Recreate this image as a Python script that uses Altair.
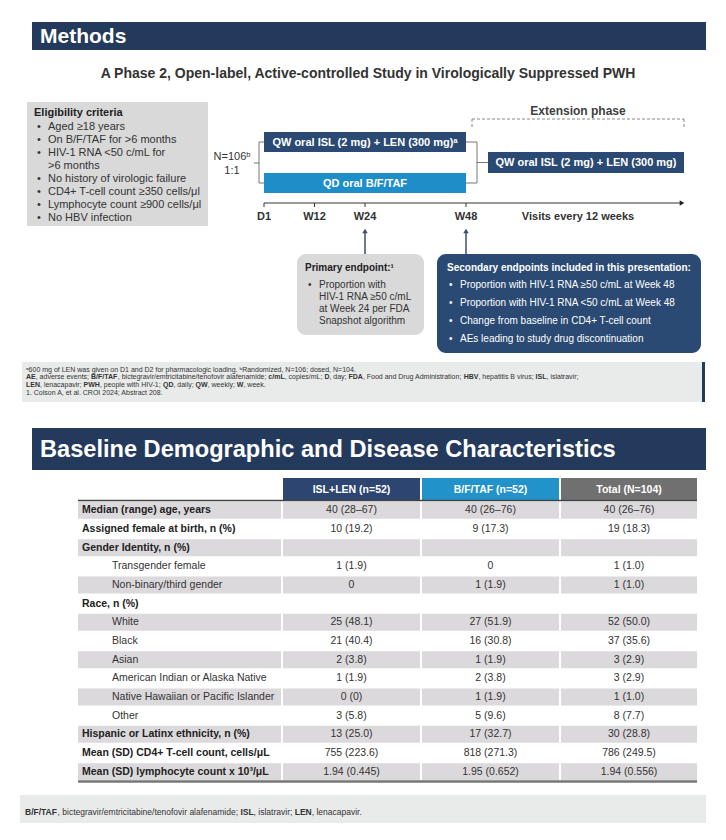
import altair as alt
import pandas as pd

FONT = "Liberation Sans"

# ------------------------------------------------------------------ data
methods_title = "Methods"
study_title = "A Phase 2, Open-label, Active-controlled Study in Virologically Suppressed PWH"
eligibility_title = "Eligibility criteria"
eligibility_lines = ["Aged ≥18 years", "On B/F/TAF for >6 months", "HIV-1 RNA <50 c/mL for", ">6 months",
                     "No history of virologic failure", "CD4+ T-cell count ≥350 cells/μl",
                     "Lymphocyte count ≥900 cells/μl", "No HBV infection"]
eligibility_bullet = [True, True, True, False, True, True, True, True]
randomization = ["N=106ᵇ", "1:1"]
arm_labels = ["QW oral ISL (2 mg) + LEN (300 mg)ᵃ", "QD oral B/F/TAF"]
extension_label = "Extension phase"
extension_arm = "QW oral ISL (2 mg) + LEN (300 mg)"
timeline_weeks = [0, 12, 24, 48]
timeline_labels = ["D1", "W12", "W24", "W48"]
visits_label = "Visits every 12 weeks"
endpoint_weeks = [24, 48]
primary_title = "Primary endpoint:¹"
primary_lines = ["Proportion with", "HIV-1 RNA ≥50 c/mL", "at Week 24 per FDA", "Snapshot algorithm"]
secondary_title = "Secondary endpoints included in this presentation:"
secondary_lines = ["Proportion with HIV-1 RNA ≥50 c/mL at Week 48",
                   "Proportion with HIV-1 RNA <50 c/mL at Week 48",
                   "Change from baseline in CD4+ T-cell count",
                   "AEs leading to study drug discontinuation"]
footnotes = [
    "ᵃ600 mg of LEN was given on D1 and D2 for pharmacologic loading. ᵇRandomized, N=106; dosed, N=104.",
    "**AE**, adverse events; **B/F/TAF**, bictegravir/emtricitabine/tenofovir alafenamide; **c/mL**, copies/mL; **D**, day; **FDA**, Food and Drug Administration; **HBV**, hepatitis B virus; **ISL**, islatravir;",
    "**LEN**, lenacapavir; **PWH**, people with HIV-1; **QD**, daily; **QW**, weekly; **W**, week.",
    "1. Colson A, et al. CROI 2024; Abstract 208.",
]
baseline_title = "Baseline Demographic and Disease Characteristics"
table_columns = ["ISL+LEN (n=52)", "B/F/TAF (n=52)", "Total (N=104)"]
row_labels = ["Median (range) age, years", "Assigned female at birth, n (%)", "Gender Identity, n (%)",
              "Transgender female", "Non-binary/third gender", "Race, n (%)", "White", "Black", "Asian",
              "American Indian or Alaska Native", "Native Hawaiian or Pacific Islander", "Other",
              "Hispanic or Latinx ethnicity, n (%)", "Mean (SD) CD4+ T-cell count, cells/μL",
              "Mean (SD) lymphocyte count x 10³/μL"]
row_sub = [False, False, False, True, True, False, True, True, True, True, True, True, False, False, False]
isl_len = ["40 (28–67)", "10 (19.2)", "", "1 (1.9)", "0", "", "25 (48.1)", "21 (40.4)", "2 (3.8)",
           "1 (1.9)", "0 (0)", "3 (5.8)", "13 (25.0)", "755 (223.6)", "1.94 (0.445)"]
bftaf = ["40 (26–76)", "9 (17.3)", "", "0", "1 (1.9)", "", "27 (51.9)", "16 (30.8)", "1 (1.9)",
         "2 (3.8)", "1 (1.9)", "5 (9.6)", "17 (32.7)", "818 (271.3)", "1.95 (0.652)"]
total = ["40 (26–76)", "19 (18.3)", "", "1 (1.0)", "1 (1.0)", "", "52 (50.0)", "37 (35.6)", "3 (2.9)",
         "3 (2.9)", "1 (1.0)", "8 (7.7)", "30 (28.8)", "786 (249.5)", "1.94 (0.556)"]
bottom_note = "**B/F/TAF**, bictegravir/emtricitabine/tenofovir alafenamide; **ISL**, islatravir; **LEN**, lenacapavir."

# ------------------------------------------------------------------ styles
NAVY_HDR = "#243a5c"
NAVY = "#2a4a73"
BLUE = "#1f8ec8"
GRAY_BOX = "#d9d9d9"
NOTE_BG = "#e9eaea"
ROW_GRAY = "#dcd9dc"
COL_COLORS = ["#2d4671", "#2192ca", "#707070"]
TXT = "#333333"

# approximate Arial / Liberation Sans advance widths (1/1000 em)
RW, BW = {}, {}
for chars, w in [(" ,.:;/ftI!", 278), ("ijl", 222), ("r()-", 333), ("cksvxyzJ", 500),
                 ("abdeghnopquL0123456789–", 556), ("=+<>", 584), ("FTZ", 611),
                 ("ABEKPSVXY", 667), ("CDHNRUw", 722), ("GOQ", 778), ("mM", 833), ("W", 944),
                 ("≥", 549), ("μ", 576), ("ᵃᵇ", 350)]:
    for ch in chars:
        RW[ch] = w
for chars, w in [(" ,./ijlI", 278), ("():;-ft!", 333), ("r", 389), ("z", 500),
                 ("acekvsxyJ0123456789–", 556), ("=+<>", 584), ("bdghnopquFLTZ", 611),
                 ("EPSVXY", 667), ("ABCDHKNRU", 722), ("GOQw", 778), ("M", 833), ("m", 889),
                 ("W", 944)]:
    for ch in chars:
        BW[ch] = w


def tw(s, fs, bold):
    tbl = BW if bold else RW
    return sum(tbl.get(ch, 556) for ch in s) * fs / 1000.0


rects, rrects, rules, dashes, points, texts = [], [], [], [], [], []


def R(x, x2, y, y2, c, rounded=False):
    (rrects if rounded else rects).append(dict(x=x, x2=x2, y=y, y2=y2, c=c))


def L(x, y, x2, y2, c="#777777", w=1.0):
    rules.append(dict(x=x, y=y, x2=x2, y2=y2, c=c, w=w))


def T(x, y, t, c=TXT, fs=11, bold=False, align="left"):
    texts.append(dict(x=x, y=y, t=t, c=c, fs=fs, b="bold" if bold else "normal", a=align))


def rich(x, y, line, fs, c=TXT):
    parts = line.split("**")
    for i, p in enumerate(parts):
        if not p:
            continue
        b = i % 2 == 1
        T(x, y, p, c, fs, b)
        x += tw(p, fs, b)


# ---------------- Methods section
R(32, 706, 22, 50, NAVY_HDR)
T(40, 36.5, methods_title, "white", 21, True)
T(368, 74, study_title, TXT, 14, True, "center")

# eligibility box
R(27, 208, 102, 226, GRAY_BOX)
T(34, 113, eligibility_title, "#222222", 11, True)
for i, (line, bul) in enumerate(zip(eligibility_lines, eligibility_bullet)):
    y = 127 + 13 * i
    if bul:
        T(37, y, "•", TXT, 11)
    T(48, y, line, TXT, 11)

# timeline geometry
x0, x48 = 264, 466
wx = lambda w: x0 + w * (x48 - x0) / 48.0

R(x0, x48, 132, 152, NAVY)
T((x0 + x48) / 2, 142.5, arm_labels[0], "white", 11, True, "center")
R(x0, x48, 173, 193, BLUE)
T((x0 + x48) / 2, 183.5, arm_labels[1], "white", 11, True, "center")
R(488, 684, 152, 173, NAVY)
T(586, 162.5, extension_arm, "white", 11, True, "center")

# randomisation bracket
L(259, 142, 259, 183); L(259, 142, x0, 142); L(259, 183, x0, 183); L(254, 163, 259, 163)
T(232, 157, randomization[0], TXT, 11, False, "center")
T(232, 171, randomization[1], TXT, 11, False, "center")
# extension bracket
L(x48, 142, 477, 142); L(x48, 183, 477, 183); L(477, 142, 477, 183); L(477, 162.5, 488, 162.5)

# extension phase dashed bracket
dashes += [dict(x=472, y=119, x2=684, y2=119), dict(x=472, y=119, x2=472, y2=127),
           dict(x=684, y=119, x2=684, y2=127)]
T(578, 111, extension_label, "#404040", 12, True, "center")

# time axis
L(x0, 203, 680, 203, "#333333", 1)
points.append(dict(x=682, y=203, s="triangle-right", sz=28, c="#222222"))
for w, lab in zip(timeline_weeks, timeline_labels):
    L(wx(w), 203, wx(w), 207, "#333333", 1)
    T(wx(w), 217, lab, TXT, 11, True, "center")
T(578, 217, visits_label, TXT, 11, True, "center")

# endpoint arrows
for w in endpoint_weeks:
    L(wx(w), 254, wx(w), 233, "#3d4f6a", 1.5)
    points.append(dict(x=wx(w), y=231, s="triangle-up", sz=30, c="#3d4f6a"))

# primary endpoint box
R(297, 424, 254, 335, GRAY_BOX, rounded=True)
T(305, 268, primary_title, "#222222", 10, True)
T(308, 285, "•", TXT, 10)
for i, line in enumerate(primary_lines):
    T(319, 285 + 12 * i, line, TXT, 10)

# secondary endpoints box
R(437, 701, 254, 353, NAVY, rounded=True)
T(447, 268, secondary_title, "white", 10, True)
for i, line in enumerate(secondary_lines):
    y = 285 + 18 * i
    T(449, y, "•", "white", 10)
    T(460, y, line, "white", 10)

# footnotes
R(22, 703, 362, 402, NOTE_BG)
R(702, 705, 362, 402, NAVY_HDR)
for i, line in enumerate(footnotes):
    rich(26, 369.5 + 7.7 * i, line, 7.0, "#333333")

# ---------------- Baseline table
R(32, 706, 428, 470, NAVY_HDR)
T(40, 449.5, baseline_title, "white", 23.6, True)

col_x = [(283, 420), (422, 559), (561, 697)]
lab_x = (78, 281)
hdr_top, hdr_bot = 478, 500
row_top, row_h = 501, (781 - 501) / len(row_labels)

for (a, b), name, col in zip(col_x, table_columns, COL_COLORS):
    R(a, b, hdr_top, hdr_bot, col)
    T((a + b) / 2, (hdr_top + hdr_bot) / 2 + 0.5, name, "white", 10.5, True, "center")

cols = [isl_len, bftaf, total]
for i, lab in enumerate(row_labels):
    top = row_top + i * row_h
    mid = top + row_h / 2
    if i % 2 == 0:
        R(lab_x[0], lab_x[1], top + 0.8, top + row_h - 0.8, ROW_GRAY)
        for a, b in col_x:
            R(a, b, top + 0.8, top + row_h - 0.8, ROW_GRAY)
    if row_sub[i]:
        T(112, mid, lab, TXT, 10.5, False)
    else:
        T(82, mid, lab, "#222222", 10.5, True)
    for (a, b), vals in zip(col_x, cols):
        if vals[i]:
            T((a + b) / 2, mid, vals[i], TXT, 10.5, False, "center")

L(lab_x[0], hdr_bot + 0.5, 697, hdr_bot + 0.5, "#444444", 1.5)
L(lab_x[0], 781.5, 697, 781.5, "#777777", 2.5)

# bottom note
R(20, 706, 795, 823, NOTE_BG)
rich(25, 812, bottom_note, 8.5, "#333333")

# ------------------------------------------------------------------ chart
XS = alt.Scale(domain=[8, 718], nice=False, zero=False)
YS = alt.Scale(domain=[8, 832], nice=False, zero=False, reverse=True)
X = alt.X("x:Q", scale=XS, axis=None)
Y = alt.Y("y:Q", scale=YS, axis=None)
C = alt.Color("c:N", scale=None)

layers = [
    alt.Chart(pd.DataFrame(rects)).mark_rect().encode(x=X, x2="x2:Q", y=Y, y2="y2:Q", color=C),
    alt.Chart(pd.DataFrame(rrects)).mark_rect(cornerRadius=9).encode(x=X, x2="x2:Q", y=Y, y2="y2:Q", color=C),
    alt.Chart(pd.DataFrame(rules)).mark_rule().encode(
        x=X, x2="x2:Q", y=Y, y2="y2:Q", color=C, strokeWidth=alt.StrokeWidth("w:Q", scale=None)),
    alt.Chart(pd.DataFrame(dashes)).mark_rule(strokeDash=[3, 2], color="#888888", strokeWidth=1).encode(
        x=X, x2="x2:Q", y=Y, y2="y2:Q"),
    alt.Chart(pd.DataFrame(points)).mark_point(filled=True, opacity=1).encode(
        x=X, y=Y, shape=alt.Shape("s:N", scale=None), size=alt.Size("sz:Q", scale=None), color=C),
]

tdf = pd.DataFrame(texts)
for (b, a), grp in tdf.groupby(["b", "a"]):
    layers.append(
        alt.Chart(grp.reset_index(drop=True)).mark_text(font=FONT, fontWeight=b, align=a, baseline="middle").encode(
            x=X, y=Y, text="t:N", color=C, size=alt.Size("fs:Q", scale=None)))

chart = alt.layer(*layers).properties(
    width=710, height=824, padding=0, autosize="none", background="white"
).configure_view(stroke=None)

chart.save("out.html", embed_options={"renderer": "svg", "actions": False})
